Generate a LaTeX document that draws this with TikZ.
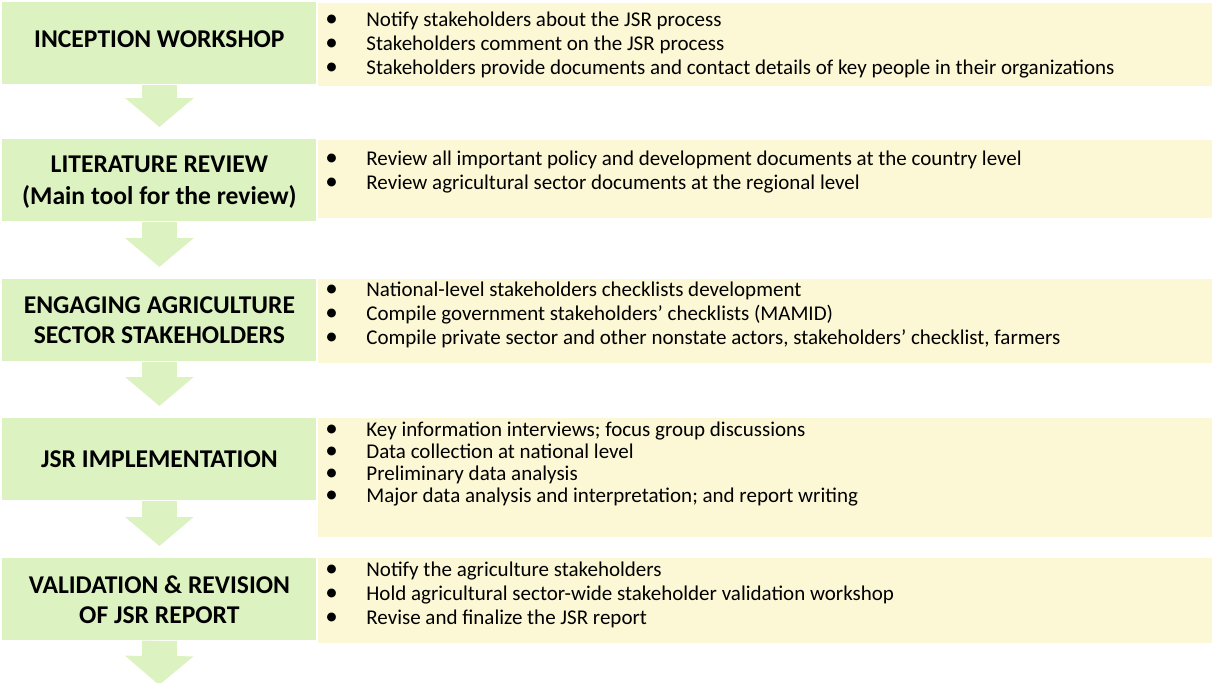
\documentclass[tikz,border=0pt]{standalone}
\usepackage{fontspec}
\setmainfont{Carlito}
\usetikzlibrary{arrows.meta}

\definecolor{stepgreen}{RGB}{220,242,193}
\definecolor{listyellow}{RGB}{252,247,212}

\newcommand{\bulletlist}[1]{\begin{tabular}[t]{@{}p{22pt}@{}l@{}}#1\end{tabular}}
\newcommand{\itm}{\hspace*{1.5pt}{\fontsize{12.5}{12}\selectfont\textbullet} &}

\begin{document}
\begin{tikzpicture}[x=0.5pt,y=-0.5pt,
	stepbox/.style={fill=stepgreen, anchor=north west, minimum width=157pt, minimum height=41pt, inner sep=0pt, align=center, font=\fontsize{12.8}{15}\selectfont\bfseries},
	infobox/.style={fill=listyellow, anchor=north west, minimum width=447pt, inner sep=0pt},
	listtext/.style={anchor=base west, inner sep=0pt, font=\fontsize{10.5}{12}\selectfont},
	flowarrow/.style={draw=stepgreen, line width=17.5pt, -{Triangle[width=33.5pt,length=14.5pt]}, shorten >=6pt}]

	\useasboundingbox (0,0) rectangle (1212,682);
	\clip (0,0) rectangle (1212,682);

	% left column
	\node[stepbox, text depth=4pt] (step1) at (2,2) {INCEPTION WORKSHOP};
	\node[stepbox, font=\fontsize{12.8}{16}\selectfont\bfseries, text depth=-1pt] (step2) at (2,139) {LITERATURE REVIEW\\(Main tool for the review)};
	\node[stepbox] (step3) at (2,279) {ENGAGING AGRICULTURE\\SECTOR STAKEHOLDERS};
	\node[stepbox] (step4) at (2,418) {JSR IMPLEMENTATION};
	\node[stepbox] (step5) at (2,558) {VALIDATION \& REVISION\\OF JSR REPORT};
	\coordinate (end) at (159,685);

	% right column
	\node[infobox, minimum height=41.5pt] (info1) at (318,3) {};
	\node[infobox, minimum height=39pt] (info2) at (318,140) {};
	\node[infobox, minimum height=42pt] (info3) at (318,279) {};
	\node[infobox, minimum height=59.5pt] (info4) at (318,418) {};
	\node[infobox, minimum height=42.5pt] (info5) at (318,558) {};

	\node[listtext] (list1) at (322,26) {\bulletlist{
		\itm Notify stakeholders about the JSR process\\
		\itm Stakeholders comment on the JSR process\\
		\itm Stakeholders provide documents and contact details of key people in their organizations}};
	\node[listtext] (list2) at (322,165) {\bulletlist{
		\itm Review all important policy and development documents at the country level\\
		\itm Review agricultural sector documents at the regional level}};
	\node[listtext] (list3) at (322,296) {\bulletlist{
		\itm National-level stakeholders checklists development\\
		\itm Compile government stakeholders’ checklists (MAMID)\\
		\itm Compile private sector and other nonstate actors, stakeholders’ checklist, farmers}};
	\node[listtext, font=\fontsize{10.5}{11.15}\selectfont] (list4) at (322,436) {\bulletlist{
		\itm Key information interviews; focus group discussions\\
		\itm Data collection at national level\\
		\itm Preliminary data analysis\\
		\itm Major data analysis and interpretation; and report writing}};
	\node[listtext] (list5) at (322,576) {\bulletlist{
		\itm Notify the agriculture stakeholders\\
		\itm Hold agricultural sector-wide stakeholder validation workshop\\
		\itm Revise and finalize the JSR report}};

	% arrows
	\draw[flowarrow] (step1.south) -- (step2.north);
	\draw[flowarrow] (step2.south) -- (step3.north);
	\draw[flowarrow] (step3.south) -- (step4.north);
	\draw[flowarrow] (step4.south) -- (step5.north);
	\draw[flowarrow, shorten >=0pt] (step5.south) -- (end);

\end{tikzpicture}
\end{document}
